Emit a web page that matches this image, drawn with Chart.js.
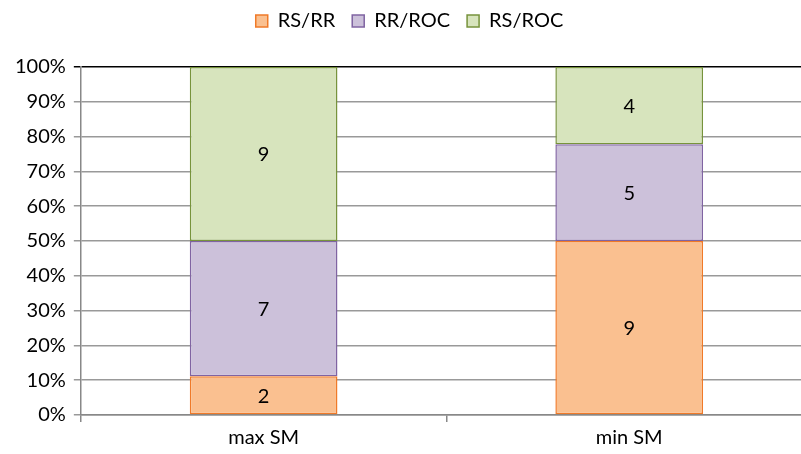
<!DOCTYPE html>
<html><head><meta charset="utf-8">
<script src="https://cdn.jsdelivr.net/npm/chart.js@4.4.0/dist/chart.umd.min.js"></script>
<style>html,body{margin:0;padding:0;overflow:hidden;background:#fff;}canvas{display:block;}</style>
</head><body>
<canvas id="c" width="812" height="454"></canvas>
<script>
const categories = ["max SM", "min SM"];
const seriesNames = ["RS/RR", "RR/ROC", "RS/ROC"];
const rsRR = [2, 9];
const rrROC = [7, 5];
const rsROC = [9, 4];
const yTicks = [0,10,20,30,40,50,60,70,80,90,100];

const counts = [rsRR, rrROC, rsROC];
const totals = categories.map((_, i) => counts.reduce((s, a) => s + a[i], 0));
const fills = ["#FAC090", "#CCC1DA", "#D7E4BD"];
const borders = ["#F07A28", "#8064A2", "#77933C"];
const FONT = "Lato, sans-serif";

const labelPlugin = {
  id: 'lbl',
  afterDatasetsDraw(chart) {
    const ctx = chart.ctx;
    ctx.save();
    ctx.font = "20px " + FONT;
    ctx.fillStyle = "#000";
    ctx.textAlign = "center";
    ctx.textBaseline = "middle";
    chart.data.datasets.forEach((ds, di) => {
      chart.getDatasetMeta(di).data.forEach((bar, i) => {
        const y = (bar.y + bar.base) / 2;
        ctx.fillText(String(ds.counts[i]), bar.x, y + 1);
      });
    });
    ctx.restore();
  }
};
const legendSpace = {
  id: 'legendSpace',
  beforeInit(chart) {
    const orig = chart.legend.fit;
    chart.legend.fit = function () { orig.call(this); this.height += 26; };
  }
};

new Chart(document.getElementById('c'), {
  type: 'bar',
  data: {
    labels: categories,
    datasets: counts.map((arr, k) => ({
      label: seriesNames[k],
      counts: arr,
      data: arr.map((v, i) => v / totals[i] * 100),
      backgroundColor: fills[k],
      borderColor: borders[k],
      borderWidth: 1.5,
      borderSkipped: false,
      categoryPercentage: 1,
      barPercentage: 0.404
    }))
  },
  options: {
    responsive: false,
    animation: false,
    layout: { padding: { left: 7, right: 0, top: -6, bottom: 0 } },
    plugins: {
      legend: {
        position: 'top',
        labels: { font: { family: FONT, size: 20 }, color: '#000', boxWidth: 12, boxHeight: 12, padding: 17 }
      },
      tooltip: { enabled: false }
    },
    scales: {
      x: {
        stacked: true,
        grid: { drawOnChartArea: false, drawTicks: true, tickLength: 7, color: '#888', lineWidth: 1.5 },
        border: { color: '#888', width: 1.5 },
        ticks: { font: { family: FONT, size: 20 }, color: '#000', padding: 4 }
      },
      y: {
        stacked: true,
        min: 0, max: 100,
        afterBuildTicks(axis) { axis.ticks = yTicks.map(v => ({ value: v })); },
        grid: {
          color: ctx => (ctx.tick && ctx.tick.value === 100) ? '#000' : '#999',
          lineWidth: 1.5,
          tickLength: 7
        },
        border: { color: '#888', width: 1.5 },
        ticks: { font: { family: FONT, size: 20 }, color: '#000', padding: 8, callback: v => v + '%' }
      }
    }
  },
  plugins: [labelPlugin, legendSpace]
});
</script>
</body></html>
